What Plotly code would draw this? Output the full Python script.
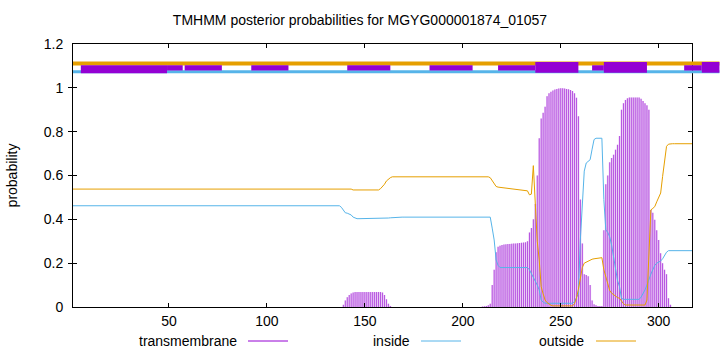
import plotly.graph_objects as go

# ---------------- data ----------------
L = 317
pos = list(range(1, L + 1))

tm = ([0.0] * 138
      + [0.01, 0.03, 0.045, 0.055, 0.062, 0.066]
      + [0.068] * 14
      + [0.066, 0.055, 0.035, 0.015, 0.005]
      + [0.0] * 46
      + [0.002, 0.003, 0.005, 0.008, 0.015, 0.10, 0.17, 0.25, 0.275, 0.28, 0.283]
      + [0.285, 0.286, 0.287, 0.288, 0.289, 0.29, 0.29, 0.291, 0.292, 0.293, 0.294, 0.295]
      + [0.30, 0.34, 0.36, 0.40, 0.47, 0.60, 0.77, 0.86, 0.886, 0.914, 0.962, 0.975, 0.982,
         0.988, 0.992, 0.995, 0.997, 0.998, 0.998, 0.997, 0.995, 0.993, 0.99, 0.985, 0.975,
         0.955, 0.87]
      + [0.49, 0.29, 0.15, 0.146, 0.14, 0.10, 0.03, 0.012, 0.008, 0.005, 0.004]
      + [0.004]
      + [0.35, 0.56, 0.60, 0.66, 0.68, 0.695, 0.718, 0.74, 0.78, 0.90, 0.93, 0.945, 0.952]
      + [0.956] * 6
      + [0.95, 0.94, 0.93, 0.92, 0.90, 0.443, 0.43, 0.398, 0.35, 0.306, 0.245, 0.20, 0.17,
         0.15, 0.04, 0.01]
      + [0.0] * 11)

inside = ([0.462] * 137
          + [0.455, 0.44, 0.43, 0.428, 0.425, 0.42, 0.41, 0.405]
          + [0.403] * 15
          + [0.405, 0.406, 0.407, 0.408, 0.409, 0.41]
          + [0.41] * 48
          + [0.36, 0.306, 0.215, 0.19]
          + [0.18] * 15
          + [0.17, 0.154, 0.135, 0.116, 0.10, 0.078, 0.032, 0.022]
          + [0.017] * 15
          + [0.025, 0.04, 0.06, 0.306, 0.50, 0.62, 0.657, 0.665, 0.672, 0.72, 0.764]
          + [0.77] * 4
          + [0.49, 0.352, 0.34, 0.32, 0.28, 0.23, 0.18, 0.12, 0.093, 0.04]
          + [0.035] * 9
          + [0.045, 0.06, 0.078, 0.10, 0.13, 0.15, 0.17, 0.19, 0.20, 0.205, 0.21, 0.22,
             0.235, 0.25]
          + [0.257] * 13)

outside = ([0.538] * 143
           + [0.534] * 14
           + [0.54, 0.548, 0.56, 0.575, 0.585, 0.59]
           + [0.594] * 50
           + [0.59, 0.575, 0.56, 0.55, 0.547]
           + [0.546, 0.545, 0.544, 0.543, 0.542, 0.541, 0.54, 0.539, 0.538, 0.537, 0.536,
              0.535, 0.534, 0.533]
           + [0.53, 0.512, 0.515, 0.645, 0.46, 0.30, 0.215, 0.093, 0.06, 0.032, 0.02, 0.012,
              0.008]
           + [0.005] * 11
           + [0.015, 0.04, 0.08, 0.123, 0.18, 0.20, 0.205, 0.21, 0.215, 0.218, 0.22, 0.222,
              0.224, 0.225, 0.225]
           + [0.17, 0.139, 0.11, 0.075, 0.063, 0.055, 0.048, 0.043, 0.04, 0.025, 0.015]
           + [0.009] * 11
           + [0.032, 0.245, 0.443, 0.45, 0.458, 0.48, 0.50, 0.52, 0.596, 0.68, 0.733, 0.743]
           + [0.745] * 12)

assert len(tm) == len(inside) == len(outside) == L

# topology band (residue ranges)
band_end = 331
low_start, low_end = [5], [49]
mid_start = [49, 58, 92, 141, 183, 218, 266, 313]
mid_end = [57, 77, 111, 163, 205, 237, 272, 322]
full_start = [237, 272, 322]
full_end = [259, 294, 331]

x_ticks = [50, 100, 150, 200, 250, 300]
title = "TMHMM posterior probabilities for MGYG000001874_01057"
legend_names = ["transmembrane", "inside", "outside"]

# ---------------- styles ----------------
PURPLE = "#9400D3"
BLUE = "#56B4E9"
ORANGE = "#E69F00"
FONT = "Liberation Sans, Arial, sans-serif"

X0, X1 = 1, L
DOM = (692 - 73) / (720 - 73)   # main plot domain fraction
X2MAX = X0 + (X1 - X0) / DOM     # matching scale for band axis

fig = go.Figure()

fig.add_trace(go.Bar(x=pos, y=tm, width=1.0, marker=dict(color="rgba(148,0,211,0.22)", line=dict(width=0)),
                     hoverinfo="skip"))
fig.add_trace(go.Bar(x=pos, y=tm, width=0.4, marker=dict(color="rgba(148,0,211,0.72)", line=dict(width=0))))
fig.add_trace(go.Scatter(x=pos, y=inside, mode="lines", line=dict(color=BLUE, width=1)))
fig.add_trace(go.Scatter(x=pos, y=outside, mode="lines", line=dict(color=ORANGE, width=1)))

# band lines on the wider helper axis
fig.add_trace(go.Scatter(x=[X0, band_end], y=[1.111, 1.111], mode="lines", xaxis="x2", yaxis="y",
                         line=dict(color=ORANGE, width=4)))
fig.add_trace(go.Scatter(x=[X0, band_end], y=[1.073, 1.073], mode="lines", xaxis="x2", yaxis="y",
                         line=dict(color=BLUE, width=3)))

shapes = []
for s, e in zip(low_start, low_end):
    shapes.append(dict(type="rect", xref="x2", yref="y", x0=s, x1=e, y0=1.067, y1=1.103,
                       fillcolor=PURPLE, line=dict(width=0), layer="above"))
for s, e in zip(mid_start, mid_end):
    shapes.append(dict(type="rect", xref="x2", yref="y", x0=s, x1=e, y0=1.079, y1=1.103,
                       fillcolor=PURPLE, line=dict(width=0), layer="above"))
for s, e in zip(full_start, full_end):
    shapes.append(dict(type="rect", xref="x2", yref="y", x0=s, x1=e, y0=1.069, y1=1.118,
                       fillcolor=PURPLE, line=dict(width=0), layer="above"))

# manual gnuplot-style legend (text then sample line)
leg_cols = [PURPLE, BLUE, ORANGE]
leg_text_right = [239, 412, 586]
leg_line = [(248, 288), (421, 461), (596, 636)]
annotations = []
ly = -(341 - 307) / (307 - 44)
for name, col, tr, (a, b) in zip(legend_names, leg_cols, leg_text_right, leg_line):
    annotations.append(dict(text=name, xref="paper", yref="paper", x=(tr - 73) / 647, y=ly,
                            xanchor="right", yanchor="middle", showarrow=False,
                            font=dict(family=FONT, size=14, color="#000")))
    shapes.append(dict(type="line", xref="paper", yref="paper", x0=(a - 73) / 647, x1=(b - 73) / 647,
                       y0=ly, y1=ly, line=dict(color=col, width=1)))

fig.update_layout(
    width=720, height=352,
    margin=dict(l=73, r=0, t=44, b=45),
    paper_bgcolor="white", plot_bgcolor="rgba(0,0,0,0)",
    showlegend=False, barmode="overlay",
    title=dict(text=title, x=0.5, xref="container", xanchor="center", y=1 - 20 / 352, yanchor="middle",
               font=dict(family=FONT, size=14, color="#000")),
    font=dict(family=FONT, size=14, color="#000"),
    xaxis=dict(domain=[0, DOM], range=[X0, X1], tickvals=x_ticks, ticks="inside", ticklen=4,
               tickcolor="#000", showline=True, linecolor="#000", linewidth=1, mirror="allticks",
               showgrid=False, zeroline=False, ticklabelstandoff=1),
    xaxis2=dict(domain=[0, 1], range=[X0, X2MAX], anchor="y", visible=False),
    yaxis=dict(range=[0, 1.2], dtick=0.2, ticks="inside", ticklen=4, tickcolor="#000",
               showline=True, linecolor="#000", linewidth=1, mirror="allticks", showgrid=False,
               zeroline=False, ticklabelstandoff=6,
               title=dict(text="probability", standoff=22, font=dict(family=FONT, size=14))),
    shapes=shapes, annotations=annotations,
)

fig.write_html("out.html")
